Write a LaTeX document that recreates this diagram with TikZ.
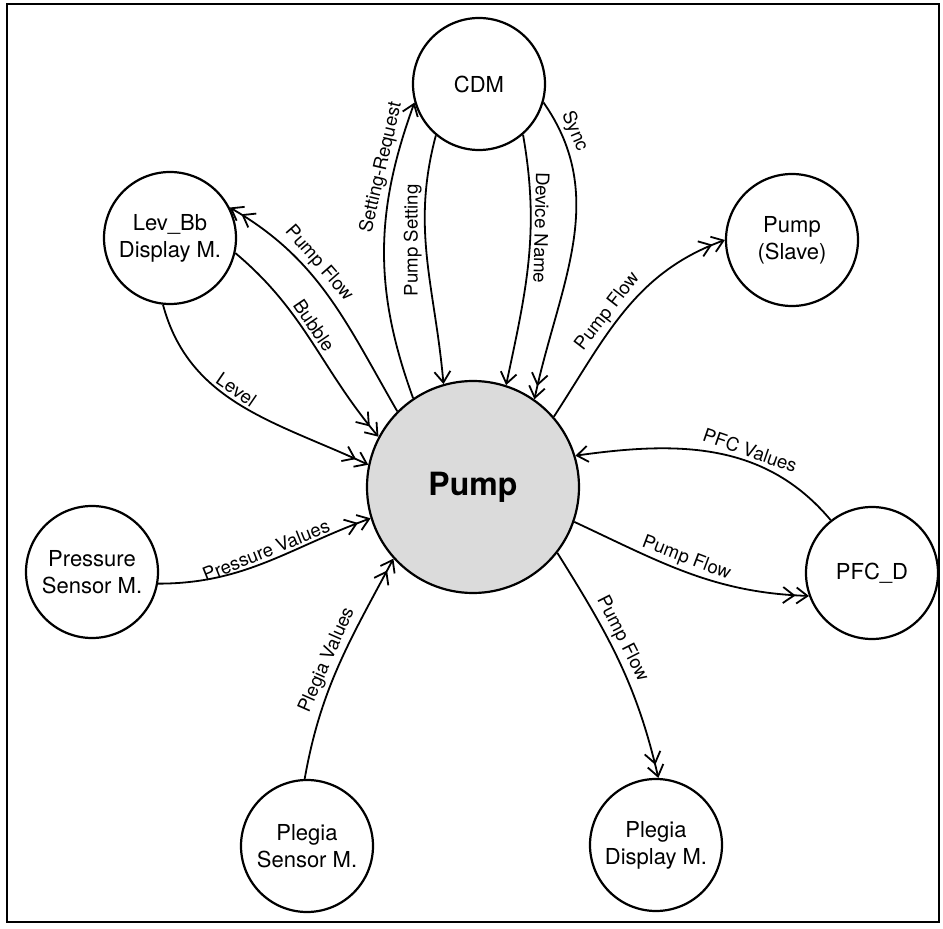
\documentclass[tikz,border=0pt]{standalone}
\usepackage{fontspec}
\setmainfont{TeX Gyre Heros}
\usetikzlibrary{arrows.meta}

\begin{document}
\begin{tikzpicture}[x=0.5pt,y=0.5pt,
    >={Straight Barb[length=5.5pt,width=8pt]},
    unit/.style={circle,draw,line width=1.1pt,minimum size=66pt,inner sep=0pt,align=center,font=\fontsize{11}{13.5}\selectfont},
    flow/.style={line width=0.9pt},
    lbl/.style={sloped,above,inner sep=1.5pt,font=\fontsize{9.3}{11}\selectfont}]
    \useasboundingbox (0,0) rectangle (943,928);
    \draw[line width=1.3pt] (7,6) rectangle (939,924);

    \node[unit,minimum size=106pt,fill=gray!28,font=\fontsize{16}{18}\selectfont\bfseries] (pump) at (473,441) {Pump};
    \node[unit] (cdm) at (479,844) {CDM};
    \node[unit] (levbb) at (170,690) {Lev\_Bb\\Display M.};
    \node[unit] (slave) at (792,688) {Pump\\(Slave)};
    \node[unit] (pfcd) at (872,355) {PFC\_D};
    \node[unit] (pressure) at (92,356) {Pressure\\Sensor M.};
    \node[unit] (plsensor) at (307,82) {Plegia\\Sensor M.};
    \node[unit] (pldisplay) at (656,83) {Plegia\\Display M.};

    \draw[flow,->] (cdm.230) to[out=255,in=95] node[pos=0.42,above,rotate=90,inner sep=1.5pt,font=\fontsize{9.3}{11}\selectfont] {Pump Setting} (pump.106);
    \draw[flow,->] (cdm.311) to[out=280,in=78] node[lbl,allow upside down,pos=0.36] {Device Name} (pump.72);
    \draw[flow,->>] (cdm.344) to[out=-55,in=78] node[lbl,allow upside down,pos=0.12] {Sync} (pump.55);
    \draw[flow,->] (pump.124) to[out=110,in=250] node[lbl,allow upside down,pos=0.78] {Setting-Request} (cdm.196);

    \draw[flow,->>] (pump.135) to[out=120,in=-30] node[lbl,pos=0.62] {Pump Flow} (levbb.27);
    \draw[flow,->>] (levbb.-13) to[out=-40,in=130] node[lbl,pos=0.45] {Bubble} (pump.152);
    \draw[flow,->>] (levbb.264) to[out=-75,in=155] node[lbl,pos=0.45] {Level} (pump.168);
    \draw[flow,->>] (pressure.-10) to[out=0,in=200] node[lbl,pos=0.52] {Pressure Values} (pump.197);
    \draw[flow,->>] (plsensor.92) to[out=80,in=242] node[lbl,pos=0.5] {Plegia Values} (pump.222);

    \draw[flow,->>] (pump.-38) to[out=-58,in=103] node[lbl,pos=0.42] {Pump Flow} (pldisplay.88);
    \draw[flow,->>] (pump.-19) to[out=-25,in=178] node[lbl,pos=0.47] {Pump Flow} (pfcd.200);
    \draw[flow,->] (pfcd.128) to[out=130,in=8] node[lbl,pos=0.38] {PFC Values} (pump.17);
    \draw[flow,->>] (pump.41) to[out=57,in=200] node[lbl,pos=0.45] {Pump Flow} (slave.180);
\end{tikzpicture}
\end{document}
